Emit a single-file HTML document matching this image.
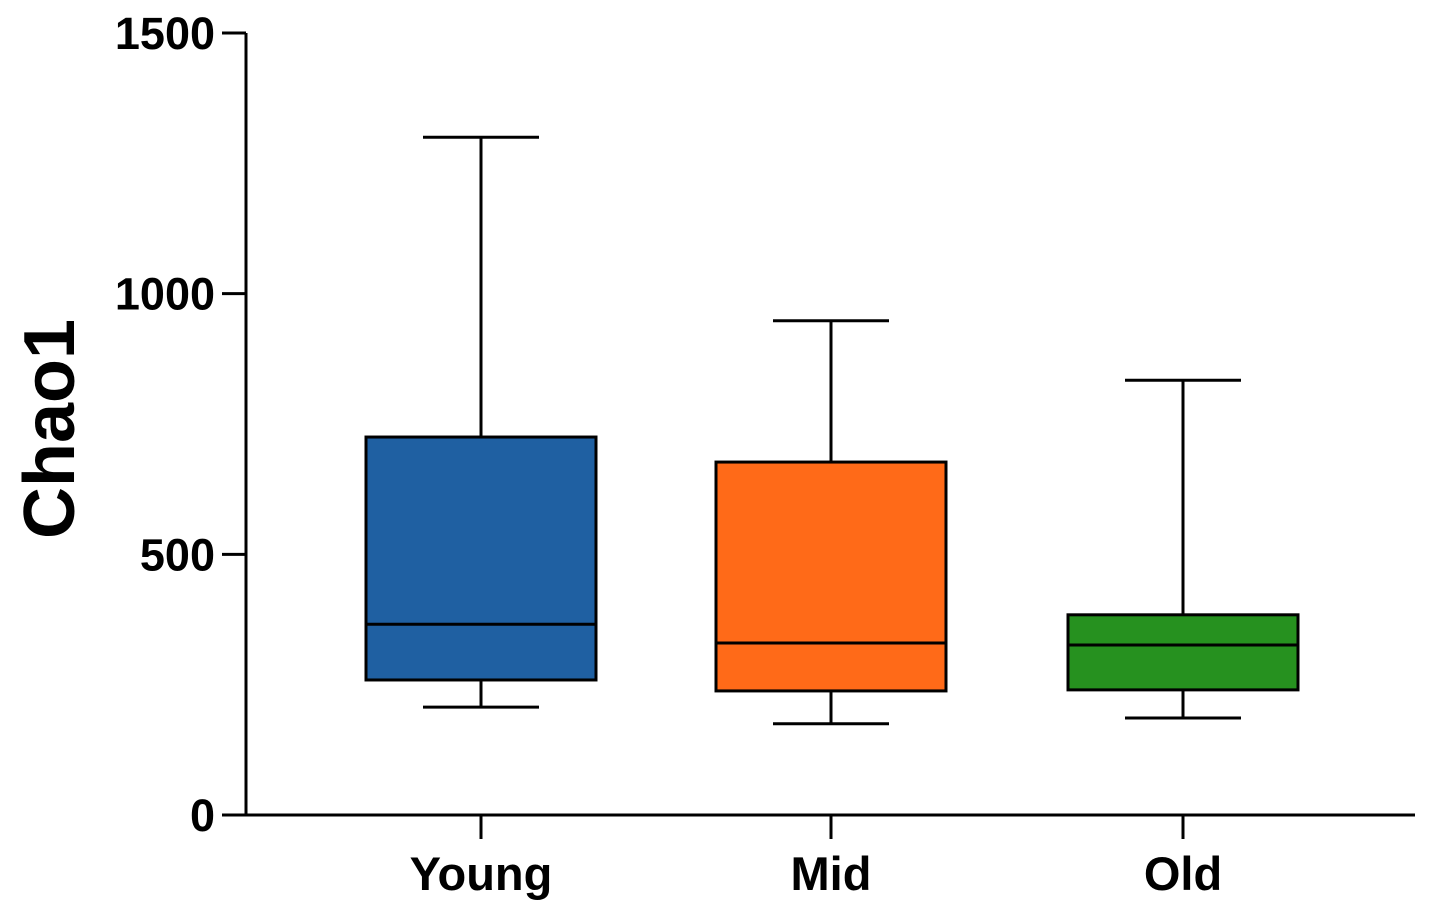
<!DOCTYPE html>
<html><head><meta charset="utf-8"><style>
html,body{margin:0;padding:0;background:#fff;}
svg{display:block;font-family:"Liberation Sans",Arial,sans-serif;font-weight:bold;}
</style></head><body>
<svg id="chart" width="1435" height="903" viewBox="0 0 1435 903" xmlns="http://www.w3.org/2000/svg">
<text transform="translate(74,429) rotate(-90)" text-anchor="middle" font-size="72" fill="#000">Chao1</text>
<g id="axes"></g>
<g id="boxes"></g>
</svg>
<script>
const categories = ["Young","Mid","Old"];
const whiskerMin = [207,175,186];
const q1 = [259,238,240];
const median = [366,330,326];
const q3 = [725,677,384];
const whiskerMax = [1300,948,834];
const colors = ["#1f60a2","#ff6a18","#26911f"];
const yTicks = [0,500,1000,1500];

const NS="http://www.w3.org/2000/svg";
const y0=815, y1=33, yMax=1500;
function yScale(v){return y0-(v/yMax)*(y0-y1);}
const xLeft=246, xRight=1415;
const catX=[481,831,1183];
function xScale(i){return catX[i];}
function mk(tag,attrs,parent){const e=document.createElementNS(NS,tag);for(const k in attrs)e.setAttribute(k,attrs[k]);parent.appendChild(e);return e;}
const axes=document.getElementById('axes');
const boxes=document.getElementById('boxes');

let e=mk('line',{x1:xLeft,y1:y1,x2:xLeft,y2:y0+1.5,stroke:'#000','stroke-width':3},axes);


e=mk('line',{x1:xLeft-1.5,y1:y0,x2:xRight,y2:y0,stroke:'#000','stroke-width':3},axes);



yTicks.forEach(t=>{
  const y=yScale(t);
  let l=mk('line',{x1:xLeft-24,y1:y,x2:xLeft,y2:y,stroke:'#000','stroke-width':3},axes);
  
  
  let tx=mk('text',{x:xLeft-31,y:y+16,'text-anchor':'end','font-size':45,fill:'#000'},axes);
  tx.textContent=t;
  
  
});

categories.forEach((c,i)=>{
  const x=xScale(i);
  let l=mk('line',{x1:x,y1:y0,x2:x,y2:y0+24,stroke:'#000','stroke-width':3},axes);
  
  
  let tx=mk('text',{x:x,y:890,'text-anchor':'middle','font-size':47,fill:'#000'},axes);
  tx.textContent=c;
  
  

  const g=mk('g',{},boxes);
  
  
  const bw=230, cw=116;
  mk('line',{x1:x,y1:yScale(whiskerMax[i]),x2:x,y2:yScale(q3[i]),stroke:'#000','stroke-width':3},g);
  mk('line',{x1:x,y1:yScale(q1[i]),x2:x,y2:yScale(whiskerMin[i]),stroke:'#000','stroke-width':3},g);
  mk('line',{x1:x-cw/2,y1:yScale(whiskerMax[i]),x2:x+cw/2,y2:yScale(whiskerMax[i]),stroke:'#000','stroke-width':3},g);
  mk('line',{x1:x-cw/2,y1:yScale(whiskerMin[i]),x2:x+cw/2,y2:yScale(whiskerMin[i]),stroke:'#000','stroke-width':3},g);
  mk('rect',{x:x-bw/2,y:yScale(q3[i]),width:bw,height:yScale(q1[i])-yScale(q3[i]),fill:colors[i],stroke:'#000','stroke-width':3},g);
  mk('line',{x1:x-bw/2,y1:yScale(median[i]),x2:x+bw/2,y2:yScale(median[i]),stroke:'#000','stroke-width':3},g);
});
</script>
</body></html>
